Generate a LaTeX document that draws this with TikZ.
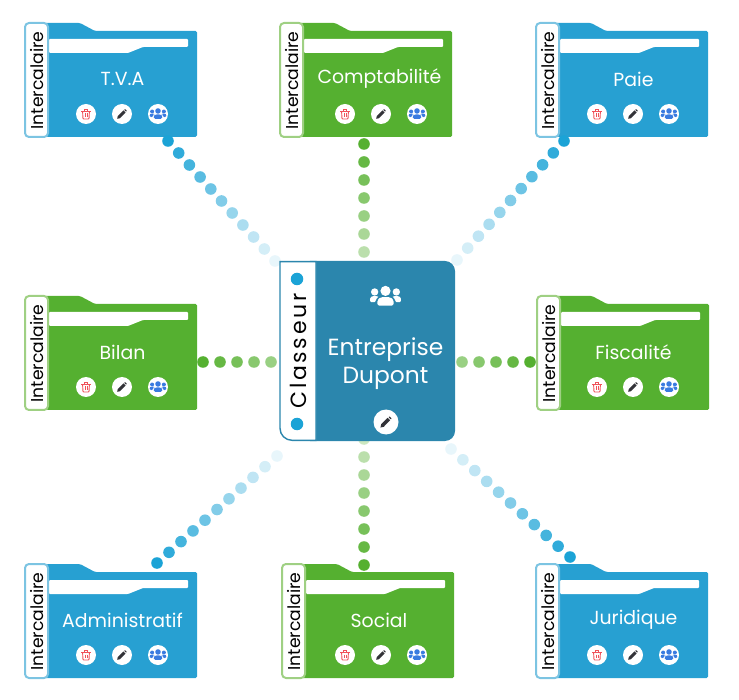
\documentclass[tikz,border=0pt]{standalone}
\usepackage{fontspec}
\usetikzlibrary{calc}
\setmainfont{Poppins}
\newfontfamily\spacedfont[LetterSpace=12]{Poppins}

\tikzset{
    foldertitle/.style={text=white, font=\fontsize{18.9}{22}\selectfont, inner sep=0pt},
    tablabel/.style={text=black, rotate=90, font=\fontsize{17.2}{20}\selectfont, inner sep=0pt},
    iconbase/.style={circle, fill=white, minimum size=20pt, inner sep=0pt},
    tinydot/.style={circle, fill=classdot, minimum size=12.5pt, inner sep=0pt}
}

% icones
\newcommand{\trashicon}[1]{
    \begin{scope}[shift={(#1)}]
        \draw[iconred, line width=0.9pt, rounded corners=0.8pt] (-3.4,-2.4) -- (-3,5) -- (3,5) -- (3.4,-2.4);
        \draw[iconred, line width=1pt] (-4.8,-2.8) -- (4.8,-2.8);
        \draw[iconred, line width=0.9pt] (-1.6,-2.8) -- (-1.6,-4.4) -- (1.6,-4.4) -- (1.6,-2.8);
        \draw[iconred, line width=0.7pt] (-1.1,-0.5) -- (-1.1,3) (1.1,-0.5) -- (1.1,3);
    \end{scope}
}
\newcommand{\penicon}[2]{
    \begin{scope}[shift={(#1)}, scale=#2]
        \fill[icondark] (-4.8,4.8) -- (-4.2,2) -- (1.4,-3.6) -- (3.5,-1.5) -- (-2,4.2) -- cycle;
        \fill[icondark, rounded corners=0.5pt] (2.1,-4.3) -- (3,-5) -- (5,-3) -- (4.2,-2.2) -- cycle;
    \end{scope}
}
\newcommand{\groupicon}[3]{
    \begin{scope}[shift={(#1)}, scale=#2]
        \fill[#3] (0,-3.2) circle (2.9pt);
        \fill[#3] (-6.2,-2.6) circle (2.1pt);
        \fill[#3] (6.2,-2.6) circle (2.1pt);
        \fill[#3, rounded corners=1.6pt] (-4.6,5.2) -- (-4.6,1.9) -- (-2.8,0.4) -- (2.8,0.4) -- (4.6,1.9) -- (4.6,5.2) -- cycle;
        \fill[#3, rounded corners=1.2pt] (-8.8,3.2) -- (-8.8,0.6) -- (-7.6,-0.2) -- (-4.6,-0.2) -- (-3.9,0.2) -- (-5.6,1.6) -- (-5.6,3.2) -- cycle;
        \fill[#3, rounded corners=1.2pt] (8.8,3.2) -- (8.8,0.6) -- (7.6,-0.2) -- (4.6,-0.2) -- (3.9,0.2) -- (5.6,1.6) -- (5.6,3.2) -- cycle;
    \end{scope}
}

% intercalaire : nom, x, y (coin haut gauche), titre, couleur, bordure, decalage du titre, decalage des icones
\newcommand{\folderbox}[8]{
    \begin{scope}[shift={(#2,#3)}]
        \fill[#5, rounded corners=1.5pt] (20,1) -- (56,1) -- (71,9) -- (173,9) -- (173,115) -- (20,115) -- cycle;
        \fill[white, rounded corners=1pt] (25,17) -- (164,17) -- (164,25) -- (119,25) -- (104,31) -- (25,31) -- cycle;
        \draw[#6, fill=white, line width=2pt, rounded corners=4pt] (1,1) rectangle (24,115);
        \node[tablabel] (#1-tab) at (13,58.5) {Intercalaire};
        \node[foldertitle] (#1) at (98.5+#7,57) {#4};
        \node[iconbase] (#1-trash) at (62+#8,92) {};
        \node[iconbase] (#1-pen) at (98+#8,92) {};
        \node[iconbase] (#1-group) at (134+#8,92) {};
        \trashicon{62+#8,92}
        \penicon{98+#8,92}{1}
        \groupicon{134+#8,92}{0.95}{iconblue}
    \end{scope}
}

% ligne de points
\newcommand{\dotline}[5]{
    \foreach \i in {0,...,#3} {
        \pgfmathsetmacro{\dotop}{1-(1-#5)*\i/#3}
        \fill[#4, opacity=\dotop] ($(#1)!\i/#3!(#2)$) circle (5.8pt);
    }
}

\begin{document}
\begin{tikzpicture}[x=1pt, y=-1pt]
    % couleurs
    \definecolor{folderblue}{RGB}{39, 160, 210}
    \definecolor{foldergreen}{RGB}{85, 176, 48}
    \definecolor{tabblue}{RGB}{124, 196, 226}
    \definecolor{tabgreen}{RGB}{159, 208, 131}
    \definecolor{dotblue}{RGB}{27, 163, 214}
    \definecolor{dotgreen}{RGB}{85, 176, 48}
    \definecolor{classblue}{RGB}{43, 134, 173}
    \definecolor{classdot}{RGB}{27, 163, 214}
    \definecolor{iconred}{RGB}{240, 82, 90}
    \definecolor{icondark}{RGB}{51, 51, 56}
    \definecolor{iconblue}{RGB}{58, 123, 224}

    \useasboundingbox (0,0) rectangle (739,700);

    % intercalaires
    \folderbox{tva}{24}{22}{T.V.A}{folderblue}{tabblue}{0}{0}
    \folderbox{compta}{279}{22}{Comptabilité}{foldergreen}{tabgreen}{2}{4}
    \folderbox{paie}{535}{22}{Paie}{folderblue}{tabblue}{0}{0}
    \folderbox{bilan}{24}{295}{Bilan}{foldergreen}{tabgreen}{0}{0}
    \folderbox{fiscal}{536}{295}{Fiscalité}{foldergreen}{tabgreen}{-1}{-1}
    \folderbox{admin}{24}{563}{Administratif}{folderblue}{tabblue}{0}{0}
    \folderbox{social}{281}{563}{Social}{foldergreen}{tabgreen}{-0.5}{2}
    \folderbox{juridique}{535}{563}{Juridique}{folderblue}{tabblue}{0}{0}

    % extremites des lignes
    \coordinate (tva-a) at (168,141);
    \coordinate (tva-b) at (275,261);
    \coordinate (compta-a) at (364,144);
    \coordinate (compta-b) at (364,252);
    \coordinate (paie-a) at (564,141);
    \coordinate (paie-b) at (457,260);
    \coordinate (bilan-a) at (203,362);
    \coordinate (bilan-b) at (271,362);
    \coordinate (fiscal-a) at (530,362);
    \coordinate (fiscal-b) at (462,362);
    \coordinate (admin-a) at (157,563);
    \coordinate (admin-b) at (277,456);
    \coordinate (social-a) at (364,565);
    \coordinate (social-b) at (364,439);
    \coordinate (juridique-a) at (570,557);
    \coordinate (juridique-b) at (451,449);

    % lignes de points
    \dotline{tva-a}{tva-b}{10}{dotblue}{0.1}
    \dotline{paie-a}{paie-b}{10}{dotblue}{0.1}
    \dotline{admin-a}{admin-b}{10}{dotblue}{0.1}
    \dotline{juridique-a}{juridique-b}{10}{dotblue}{0.1}
    \dotline{compta-a}{compta-b}{6}{dotgreen}{0.4}
    \dotline{social-a}{social-b}{7}{dotgreen}{0.3}
    \dotline{bilan-a}{bilan-b}{4}{dotgreen}{0.6}
    \dotline{fiscal-a}{fiscal-b}{4}{dotgreen}{0.6}

    % classeur
    \fill[classblue, rounded corners=10pt] (300,261) -- (455,261) -- (455,441) -- (300,441) -- cycle;
    \draw[classblue, fill=white, line width=1.4pt] (316,261.7) -- (280,261.7) [rounded corners=12pt] -- (280,440.3) [sharp corners] -- (316,440.3) -- cycle;
    \node[tinydot] (hole-top) at (297,279) {};
    \node[tinydot] (hole-bottom) at (297,424) {};
    \node[rotate=90, inner sep=0pt, text=black, font=\spacedfont\fontsize{22}{26}\selectfont] (classeur) at (298,351) {Classeur};
    \groupicon{385.5,296.5}{1.75}{white}
    \node[align=center, text=white, inner sep=0pt, font=\fontsize{23.4}{28}\selectfont] (entreprise) at (385.5,363.5) {Entreprise\\Dupont};
    \node[circle, fill=white, minimum size=25pt, inner sep=0pt] (classpen) at (386,422) {};
    \penicon{386,422}{1.15}
\end{tikzpicture}
\end{document}
